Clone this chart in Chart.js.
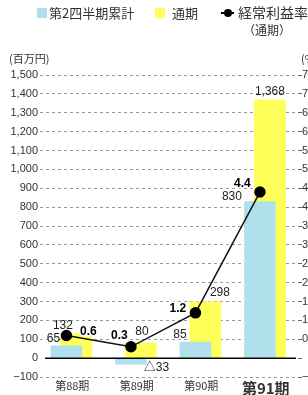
<!DOCTYPE html>
<html>
<head>
<meta charset="utf-8">
<script src="https://cdn.jsdelivr.net/npm/chart.js@4"></script>
<style>
  html, body { margin: 0; padding: 0; background: #fff; overflow: hidden; }
  #wrap { position: relative; width: 308px; height: 395px; overflow: hidden; background: #fff; }
  #c { position: absolute; left: 0; top: 0; }
  .txt { position: absolute; font-family: "Noto Sans CJK JP", sans-serif; color: #333; white-space: nowrap; line-height: 1; }
  .sq { position: absolute; width: 10px; height: 10px; }
</style>
</head>
<body>
<div id="wrap">
  <canvas id="c" width="340" height="395"></canvas>
  <div class="sq" style="left:37px;top:8px;background:#b0e0ec"></div>
  <div class="txt" style="left:49px;top:6px;font-size:13px">第2四半期累計</div>
  <div class="sq" style="left:155px;top:8px;background:#ffff5a"></div>
  <div class="txt" style="left:172px;top:6px;font-size:13px">通期</div>
  <div style="position:absolute;left:221px;top:12px;width:13px;height:1.5px;background:#000"></div>
  <div style="position:absolute;left:224px;top:9px;width:8px;height:8px;border-radius:50%;background:#000"></div>
  <div class="txt" style="left:238px;top:5px;font-size:14px">経常利益率</div>
  <div class="txt" style="left:243px;top:24px;font-size:12px">（通期）</div>
  <div class="txt" style="left:9px;top:53px;font-size:11px">(百万円)</div>
  <div class="txt" style="left:301px;top:53px;font-size:11px">(%)</div>
</div>
<script>
// Periods and values (百万円 / %)
const periods = ['第88期', '第89期', '第90期', '第91期'];
const halfYear = [65, -33, 85, 830];
const fullYear = [132, 80, 298, 1368];
const ordinaryMargin = [0.6, 0.3, 1.2, 4.4];

// Left axis ticks -100..1500, right axis -0.5..7.5
const leftMin = -100, leftMax = 1500, leftStep = 100;
const rightMin = -0.5, rightMax = 7.5, rightStep = 0.5;

// bars overlap: blue a bit left of the period centre, yellow a bit right
const BAR_WIDTH = 31;
const BLUE_SHIFT = -0.09;   // in period units
const YELLOW_SHIFT = 0.065;

// label placement [dx, dy] relative to the mark
const halfOffsets = [[-13, -7], [25.5, 3], [-15.5, -7], [-28, -5]];
const fullOffsets = [[-13.5, -8], [1, -11], [14.5, -9], [0, -8]];
const marginOffsets = [[22, -4], [-11.5, -11], [-17.5, -4], [-17.5, -8]];

const NUM_FONT = '"Liberation Sans", Arial, "Noto Sans CJK JP", sans-serif';
const JP_FONT = '"Noto Sans CJK JP", sans-serif';

function fmtVal(v) {
  if (v < 0) return '△' + Math.abs(v);
  return v.toLocaleString('en-US');
}

// hidden x axis lined up with the period axis, moved by a fraction of a period
function shiftedAxis(shift) {
  return {
    type: 'linear',
    display: false,
    offset: false,
    bounds: 'data',
    min: -0.5 - shift,
    max: 3.5 - shift
  };
}

const labelPlugin = {
  id: 'valueLabels',
  afterDatasetsDraw(chart) {
    const ctx = chart.ctx;
    const area = chart.chartArea;
    const y0 = chart.scales.y.getPixelForValue(0);
    // zero line
    ctx.save();
    ctx.strokeStyle = '#000';
    ctx.lineWidth = 1.5;
    ctx.beginPath();
    ctx.moveTo(area.left + 5, y0);
    ctx.lineTo(area.right - 2, y0);
    ctx.stroke();
    ctx.restore();

    ctx.save();
    ctx.textAlign = 'center';
    ctx.textBaseline = 'middle';
    ctx.fillStyle = '#222';
    ctx.font = '12px ' + NUM_FONT;
    chart.getDatasetMeta(0).data.forEach((el, i) => {
      const [dx, dy] = halfOffsets[i];
      ctx.fillText(fmtVal(halfYear[i]), el.x + dx, el.y + dy);
    });
    chart.getDatasetMeta(1).data.forEach((el, i) => {
      const [dx, dy] = fullOffsets[i];
      ctx.fillText(fmtVal(fullYear[i]), el.x + dx, el.y + dy);
    });
    ctx.font = 'bold 12px ' + NUM_FONT;
    ctx.lineJoin = 'round';
    chart.getDatasetMeta(2).data.forEach((el, i) => {
      const [dx, dy] = marginOffsets[i];
      const t = ordinaryMargin[i].toFixed(1);
      ctx.strokeStyle = '#fff';
      ctx.lineWidth = 3;
      ctx.strokeText(t, el.x + dx, el.y + dy);
      ctx.fillStyle = '#000';
      ctx.fillText(t, el.x + dx, el.y + dy);
    });
    ctx.restore();
  }
};

new Chart(document.getElementById('c'), {
  data: {
    labels: periods,
    datasets: [
      {
        type: 'bar',
        label: '第2四半期累計',
        data: halfYear.map((v, i) => ({ x: i, y: v })),
        xAxisID: 'xb',
        yAxisID: 'y',
        backgroundColor: '#b0e0ec',
        borderWidth: 0,
        barThickness: BAR_WIDTH,
        grouped: false,
        order: 1
      },
      {
        type: 'bar',
        label: '通期',
        data: fullYear.map((v, i) => ({ x: i, y: v })),
        xAxisID: 'xy',
        yAxisID: 'y',
        backgroundColor: '#ffff5a',
        borderWidth: 0,
        barThickness: BAR_WIDTH,
        grouped: false,
        order: 2
      },
      {
        type: 'line',
        label: '経常利益率（通期）',
        data: ordinaryMargin.map((v, i) => ({ x: i, y: v })),
        xAxisID: 'xb',
        yAxisID: 'y2',
        borderColor: '#111',
        borderWidth: 1.5,
        pointRadius: 5,
        pointBackgroundColor: '#000',
        pointBorderColor: '#000',
        tension: 0,
        order: 0
      }
    ]
  },
  options: {
    responsive: false,
    animation: false,
    layout: { padding: { top: 75, left: 0, right: 0, bottom: 0 } },
    plugins: {
      legend: { display: false },
      tooltip: { enabled: false }
    },
    scales: {
      x: {
        type: 'category',
        labels: periods,
        offset: true,
        grid: { display: false },
        border: { display: false },
        afterFit: s => { s.height = 18; },
        ticks: {
          padding: -6,
          color: '#333',
          font: c => c.index === 3
            ? { family: JP_FONT, size: 15, weight: 'bold' }
            : { family: JP_FONT, size: 11 }
        }
      },
      xb: shiftedAxis(BLUE_SHIFT),
      xy: shiftedAxis(YELLOW_SHIFT),
      y: {
        position: 'left',
        min: leftMin,
        max: leftMax,
        afterFit: s => { s.width = 40; },
        border: { display: false, dash: [3, 3] },
        grid: {
          color: c => c.tick.value === 0 ? 'rgba(0,0,0,0)' : '#9a9a9a',
          lineWidth: 1,
          drawTicks: false
        },
        ticks: {
          stepSize: leftStep,
          padding: 2,
          color: '#333',
          font: { family: NUM_FONT, size: 11 },
          callback: v => v < 0 ? '−' + Math.abs(v) : v.toLocaleString('en-US')
        }
      },
      y2: {
        position: 'right',
        min: rightMin,
        max: rightMax,
        afterFit: s => { s.width = 42; },
        border: { display: false },
        grid: {
          drawOnChartArea: false,
          tickLength: 4,
          color: '#666'
        },
        ticks: {
          stepSize: rightStep,
          padding: 0,
          color: '#333',
          font: { family: NUM_FONT, size: 11 },
          callback: v => {
            if (Math.abs(v) < 1e-9) return '';
            return v < 0 ? '−' + Math.abs(v).toFixed(1) : v.toFixed(1);
          }
        }
      }
    }
  },
  plugins: [labelPlugin]
});
</script>
</body>
</html>
